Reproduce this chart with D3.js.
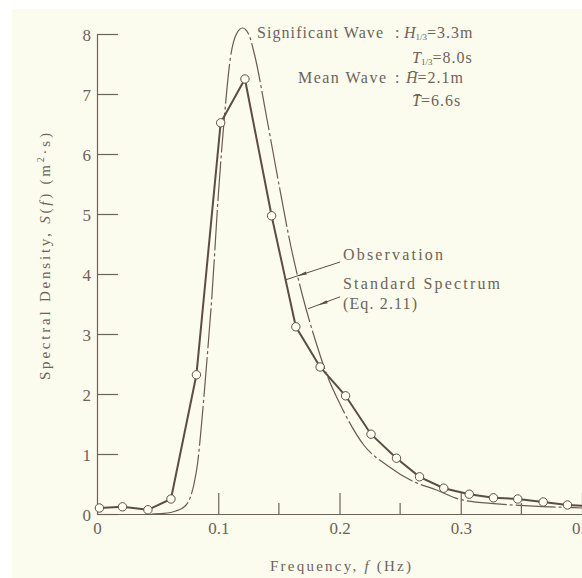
<!DOCTYPE html>
<html>
<head>
<meta charset="utf-8">
<script src="https://cdn.jsdelivr.net/npm/d3@7"></script>
<style>
body { margin: 0; background: #fff; }
svg { display: block; font-family: "Liberation Serif", "DejaVu Serif", serif; }
</style>
</head>
<body>
<svg id="chart" width="582" height="578"></svg>
<script>
// wave spectrum plot

// observed spectrum (open circles)
var obsFreq = [0.002, 0.021, 0.042, 0.061, 0.082, 0.102, 0.122, 0.144, 0.164, 0.184,
               0.205, 0.226, 0.247, 0.266, 0.286, 0.307, 0.327, 0.347, 0.368, 0.388, 0.408];
var obsDens = [0.10, 0.12, 0.07, 0.25, 2.32, 6.52, 7.25, 4.97, 3.12, 2.45,
               1.97, 1.33, 0.93, 0.62, 0.43, 0.33, 0.27, 0.25, 0.20, 0.15, 0.13];

// standard spectrum (dash-dot curve)
var stdFreq = [0.045, 0.055, 0.065, 0.072, 0.077, 0.080, 0.083, 0.086, 0.090, 0.095,
               0.100, 0.105, 0.110, 0.115, 0.120, 0.125, 0.130, 0.140, 0.150, 0.160,
               0.170, 0.180, 0.190, 0.200, 0.220, 0.240, 0.260, 0.280, 0.300, 0.330,
               0.360, 0.400, 0.410];
var stdDens = [0.00, 0.01, 0.05, 0.12, 0.28, 0.50, 0.85, 1.45, 2.40, 3.70,
               5.30, 6.60, 7.60, 8.00, 8.10, 8.00, 7.65, 6.60, 5.50, 4.45,
               3.60, 2.90, 2.30, 1.85, 1.15, 0.80, 0.55, 0.40, 0.24, 0.17,
               0.13, 0.10, 0.09];

var yTicks = [0, 1, 2, 3, 4, 5, 6, 7, 8];
var xTicks = [0, 0.1, 0.2, 0.3, 0.4];
var xMinor = [0.15, 0.25, 0.35];

var ink = "#5e4d45";
var textCol = "#6e6259";

var svg = d3.select("#chart");
var margin = {top: 34, left: 97, bottom: 64};
var width = 582 - margin.left;
var height = 578 - margin.top - margin.bottom;

// scanned paper
svg.append("rect").attr("width", 582).attr("height", 578).attr("fill", "#fff");
svg.append("rect").attr("x", 12).attr("y", 9).attr("width", 570).attr("height", 569)
    .attr("fill", "#fcfcee");

var x = d3.scaleLinear().domain([0, 0.4]).range([0, width]);
var y = d3.scaleLinear().domain([0, 8]).range([height, 0]);

var g = svg.append("g")
    .attr("transform", "translate(" + margin.left + "," + margin.top + ")");

// axes
var yAxis = d3.axisLeft(y).tickValues(yTicks).tickSizeInner(-21).tickSizeOuter(0)
    .tickPadding(6).tickFormat(d3.format("d"));
var xAxis = d3.axisBottom(x).tickValues(xTicks).tickSizeInner(-21).tickSizeOuter(0)
    .tickPadding(8).tickFormat(function(d) { return d === 0 ? "0" : d3.format(".1f")(d); });

var gy = g.append("g").attr("class", "axis axis--y").call(yAxis);
var gx = g.append("g").attr("class", "axis axis--x")
    .attr("transform", "translate(0," + height + ")").call(xAxis);

gx.selectAll(".tick").filter(function(d) { return d === 0; }).select("line").remove();
gy.selectAll(".tick text").attr("dy", "0.36em");

g.selectAll(".minor").data(xMinor).enter().append("line")
    .attr("x1", x).attr("x2", x)
    .attr("y1", height).attr("y2", height - 11);

g.selectAll(".axis path, .axis line, line")
    .attr("stroke", "#6f6258").attr("stroke-width", 1.2);
g.selectAll(".axis text")
    .attr("fill", textCol).attr("font-size", 17)
    .attr("font-family", "Liberation Serif");

// standard spectrum
var stdLine = d3.line()
    .x(function(d, i) { return x(stdFreq[i]); })
    .y(function(d) { return y(d); })
    .curve(d3.curveMonotoneX);

g.append("path")
    .datum(stdDens)
    .attr("fill", "none")
    .attr("stroke", "#6a5a52")
    .attr("stroke-width", 1.2)
    .attr("stroke-dasharray", "40,3,3,3")
    .attr("d", stdLine);

// observation
var obsLine = d3.line()
    .x(function(d, i) { return x(obsFreq[i]); })
    .y(function(d) { return y(d); });

g.append("path")
    .datum(obsDens)
    .attr("fill", "none")
    .attr("stroke", ink)
    .attr("stroke-width", 2)
    .attr("d", obsLine);

g.selectAll(".pt").data(obsDens).enter().append("circle")
    .attr("class", "pt")
    .attr("cx", function(d, i) { return x(obsFreq[i]); })
    .attr("cy", function(d) { return y(d); })
    .attr("r", 4.2)
    .attr("fill", "#fffff6")
    .attr("stroke", ink)
    .attr("stroke-width", 1);

// leader lines with small wedge
function leader(f0, s0, f1, s1, t) {
    var x0 = x(f0), y0 = y(s0), x1 = x(f1), y1 = y(s1);
    g.append("line").attr("x1", x0).attr("y1", y0).attr("x2", x1).attr("y2", y1)
        .attr("stroke", ink).attr("stroke-width", 1);
    var len = Math.hypot(x1 - x0, y1 - y0);
    var ux = (x1 - x0) / len, uy = (y1 - y0) / len;
    var px = x0 + (x1 - x0) * t, py = y0 + (y1 - y0) * t;
    var pts = [[px + ux * 5, py + uy * 5],
               [px - ux * 5 - uy * 1.6, py - uy * 5 + ux * 1.6],
               [px - ux * 5 + uy * 1.6, py - uy * 5 - ux * 1.6]];
    g.append("polygon").attr("points", pts.map(function(p) { return p.join(","); }).join(" "))
        .attr("fill", ink);
}
leader(0.2005, 4.2, 0.155, 3.9, 0.7);
leader(0.2005, 3.62, 0.174, 3.42, 0.55);

// texts
function label(tx, ty, str, len, size) {
    var t = svg.append("text").attr("x", tx).attr("y", ty)
        .attr("fill", textCol).attr("font-size", size || 16).text(str);
    if (len) t.attr("textLength", len).attr("lengthAdjust", "spacing");
    return t;
}

label(343, 260, "Observation", 100);
label(343, 289, "Standard Spectrum", 157);
label(343, 309, "(Eq. 2.11)", 74);

label(270, 571, null, 141, 15).call(function(t) {
    t.append("tspan").text("Frequency,  ");
    t.append("tspan").attr("font-style", "italic").text("f");
    t.append("tspan").text(" (Hz)");
});

svg.append("text")
    .attr("transform", "translate(50,380) rotate(-90)")
    .attr("fill", textCol).attr("font-size", 15)
    .attr("textLength", 247).attr("lengthAdjust", "spacing")
    .call(function(t) {
        t.append("tspan").text("Spectral Density,  ");
        t.append("tspan").attr("font-style", "italic").text("S");
        t.append("tspan").text("(");
        t.append("tspan").attr("font-style", "italic").text("f");
        t.append("tspan").text(")  (m");
        t.append("tspan").attr("font-size", 10).attr("dy", -6).text("2");
        t.append("tspan").attr("dy", 6).text("\u00b7s)");
    });

// wave statistics
label(257, 38, "Significant  Wave", 126);
label(395, 38, ":");
label(395, 83, ":");
label(298, 83, "Mean  Wave", 88);

function stat(tx, ty, sym, bar, sub, rest) {
    var t = svg.append("text").attr("x", tx).attr("y", ty)
        .attr("fill", textCol).attr("font-size", 16);
    t.append("tspan").attr("font-style", "italic").text(sym + (bar ? "\u0304" : ""));
    if (sub) t.append("tspan").attr("font-size", 9).attr("dy", 2).text(sub);
    t.append("tspan").attr("dy", sub ? -2 : 0).attr("letter-spacing", 1).text(rest);
}
stat(404, 38, "H", false, "1/3", "=3.3m");
stat(412, 63, "T", false, "1/3", "=8.0s");
stat(406, 83, "H", true, null, "=2.1m");
stat(412, 106, "T", true, null, "=6.6s");
</script>
</body>
</html>
